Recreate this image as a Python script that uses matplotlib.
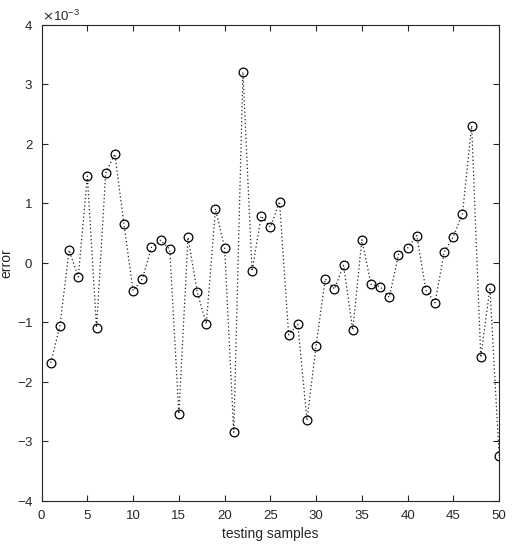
import numpy as np
import matplotlib
matplotlib.use("Agg")
import matplotlib.pyplot as plt
from matplotlib.ticker import ScalarFormatter

plt.rcParams['font.family'] = ['Liberation Sans', 'DejaVu Sans']
plt.rcParams['axes.unicode_minus'] = False

# error per testing sample, in units of 1e-3
samples = np.arange(1, 51)
error_e3 = [-1.68, -1.06, 0.215, -0.24, 1.46, -1.09, 1.51, 1.83, 0.65, -0.47,
            -0.27, 0.26, 0.38, 0.23, -2.54, 0.43, -0.49, -1.03, 0.91, 0.25,
            -2.85, 3.21, -0.14, 0.79, 0.60, 1.03, -1.21, -1.03, -2.65, -1.39,
            -0.27, -0.44, -0.04, -1.13, 0.39, -0.36, -0.40, -0.58, 0.14, 0.25,
            0.46, -0.46, -0.67, 0.18, 0.44, 0.83, 2.31, -1.59, -0.42, -3.24]
error = np.array(error_e3) * 1e-3

fig = plt.figure(figsize=(5.14, 5.50), dpi=100)
ax = fig.add_axes([0.081, 0.0896, 0.890, 0.8649])

ax.plot(samples, error, linestyle=(0, (1, 2)), color='#222222', linewidth=0.9,
        marker='o', markersize=6.3, markerfacecolor='none',
        markeredgecolor='black', markeredgewidth=0.9)

ax.set_xlim(0, 50)
ax.set_ylim(-4e-3, 4e-3)
ax.set_xticks(np.arange(0, 51, 5))
ax.set_yticks(np.arange(-4, 5, 1) * 1e-3)

fmt = ScalarFormatter(useMathText=True)
fmt.set_powerlimits((-2, 2))
ax.yaxis.set_major_formatter(fmt)

edge = '#262626'
for s in ax.spines.values():
    s.set_color(edge)
    s.set_linewidth(0.8)
ax.tick_params(direction='in', top=True, right=True, length=4,
               color=edge, labelcolor=edge, labelsize=9.5, width=0.8)
ax.tick_params(axis='x', pad=7)
ax.tick_params(axis='y', pad=6)
ax.yaxis.get_offset_text().set_fontsize(9.5)
ax.yaxis.get_offset_text().set_color(edge)

ax.set_xlabel('testing samples', fontsize=10, color=edge, labelpad=3)
ax.set_ylabel('error', fontsize=10, color=edge, labelpad=2)

fig.savefig('out.png', dpi=100)
